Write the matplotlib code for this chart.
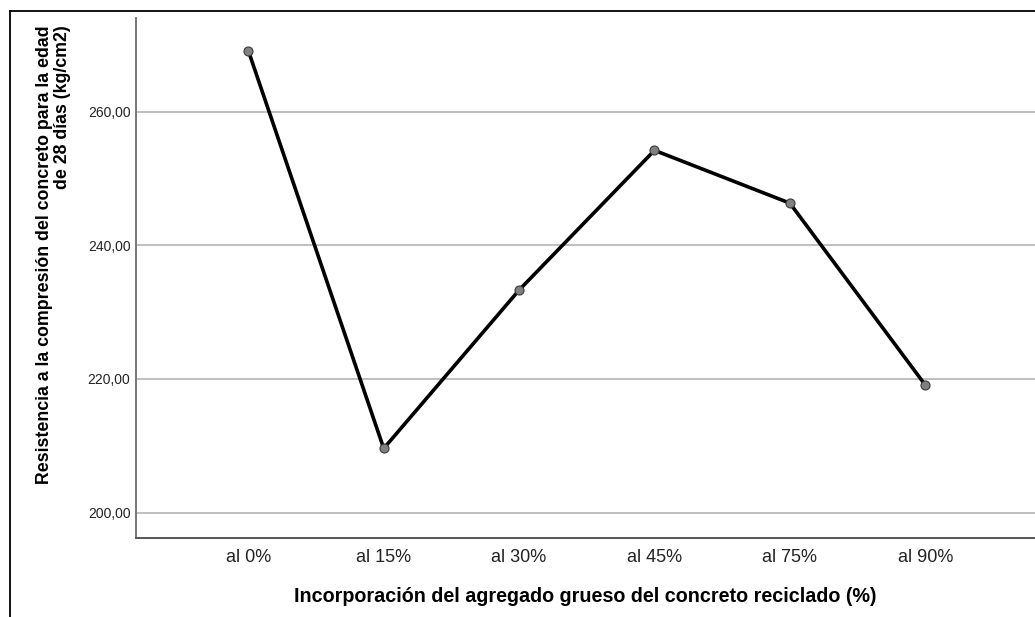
import matplotlib
matplotlib.use("Agg")
import matplotlib.pyplot as plt
from matplotlib.lines import Line2D

# data
categorias = ["al 0%", "al 15%", "al 30%", "al 45%", "al 75%", "al 90%"]
resistencia = [269.1, 209.6, 233.3, 254.2, 246.3, 219.1]
yticks = [200, 220, 240, 260]

plt.rcParams['font.family'] = ['Liberation Sans', 'DejaVu Sans']

fig = plt.figure(figsize=(10.35, 6.17), dpi=100)
ax = fig.add_axes([0.1314, 0.128, 0.8711, 0.8428])

x = list(range(len(categorias)))
ax.plot(x, resistencia, color='black', lw=2.6, zorder=3,
        marker='o', markersize=6.5, markerfacecolor='#808080',
        markeredgecolor='#3a3a3a', markeredgewidth=0.8)

ax.set_xlim(-0.83, 5.83)
ax.set_ylim(196.2, 274.0)
ax.set_xticks(x)
ax.set_xticklabels(categorias, fontsize=13, color='#222222')
ax.set_yticks(yticks)
ax.set_yticklabels(['%d,00' % v for v in yticks], fontsize=10, color='#222222')
ax.tick_params(axis='both', length=0, pad=8)
ax.tick_params(axis='y', pad=4)

ax.grid(axis='y', color='#b4b4b4', lw=1.2)
ax.set_axisbelow(True)
for s in ['top', 'right']:
    ax.spines[s].set_visible(False)
ax.spines['left'].set_color('#777777')
ax.spines['bottom'].set_color('#555555')
ax.spines['left'].set_linewidth(1.4)
ax.spines['bottom'].set_linewidth(1.4)

fig.text(0.565, 1 - 597 / 617, 'Incorporación del agregado grueso del concreto reciclado (%)',
         ha='center', va='center', fontsize=14.2, fontweight='bold')
fig.text(0.052, 1 - 255 / 617,
         'Resistencia a la compresión del concreto para la edad\nde 28 días (kg/cm2)',
         rotation=90, ha='center', va='center', multialignment='right',
         fontsize=12.8, fontweight='bold', linespacing=1.05)

# frame around the picture (left and top edges visible)
fig.add_artist(Line2D([10 / 1035, 10 / 1035], [0, 1 - 11 / 617], color='black', lw=1.3))
fig.add_artist(Line2D([10 / 1035, 1], [1 - 11 / 617, 1 - 11 / 617], color='black', lw=1.3))

fig.savefig('out.png', dpi=100)
